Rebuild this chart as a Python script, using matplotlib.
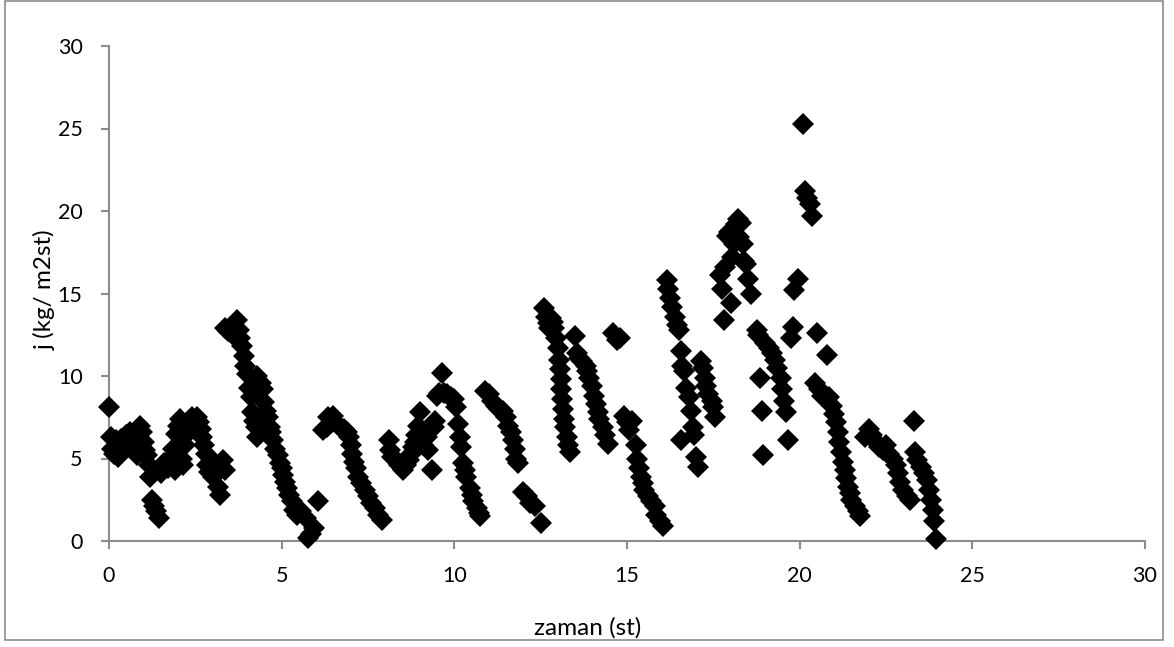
import matplotlib

matplotlib.use("Agg")

import matplotlib.pyplot as plt
from matplotlib.patches import Rectangle

# measured flux j over time, split into four blocks of the day
t_a = [0.0, 0.05, 0.1, 0.15, 0.2, 0.25, 0.3, 0.35, 0.4, 0.45, 0.5, 0.55, 0.6, 0.65, 0.7, 0.75,
       0.8, 0.85, 0.9, 0.95, 1.0, 1.05, 1.1, 1.15, 1.2, 1.25, 1.3, 1.35, 1.45, 1.5, 1.55, 1.6,
       1.7, 1.75, 1.8, 1.85, 1.9, 1.95, 2.0, 2.05, 2.1, 2.15, 2.2, 2.25, 2.3, 2.4, 2.45, 2.5,
       2.55, 2.6, 2.65, 2.7, 2.75, 2.8, 2.85, 2.9, 2.95, 3.0, 3.1, 3.15, 3.2, 3.3, 3.35,
       3.35, 3.45, 3.55, 3.6, 3.7, 3.75, 3.8, 3.85, 3.9, 3.95, 4.0, 4.05, 4.1, 4.15, 4.2, 4.25, 4.3,
       4.3, 4.4, 4.45, 4.5, 4.55, 4.6, 4.65, 4.7, 4.75, 4.8, 4.9, 4.95, 5.0, 5.05, 5.1, 5.15,
       5.2, 5.3, 5.35, 5.45, 5.55, 5.7, 5.75, 5.85, 5.95, 6.05]
j_a = [8.1, 6.3, 5.6, 5.3, 6.1, 5.1, 5.8, 6.2, 5.5, 6.0, 6.4, 5.9, 6.6, 6.2, 6.4, 5.6,
       5.2, 6.3, 7.0, 6.6, 6.0, 5.5, 5.2, 4.6, 3.9, 2.5, 2.1, 1.8, 1.4, 4.1, 4.4, 4.7,
       4.4, 4.9, 5.0, 5.6, 4.3, 6.5, 7.0, 7.4, 5.0, 4.6, 5.8, 6.5, 7.0, 7.5, 6.9, 6.8,
       7.5, 7.2, 6.8, 6.3, 5.8, 5.3, 4.6, 4.2, 5.0, 3.9, 4.5, 3.3, 2.8, 4.9, 4.3,
       12.9, 12.7, 13.0, 12.5, 13.4, 12.8, 12.3, 11.8, 11.2, 10.6, 10.1, 9.3, 8.7, 7.8, 7.3, 6.9, 6.3,
       10.0, 9.6, 9.2, 8.4, 7.9, 7.5, 6.9, 6.6, 6.1, 5.6, 5.2, 4.7, 4.4, 4.0, 3.6, 3.2,
       2.8, 2.4, 1.9, 1.6, 1.8, 1.4, 0.2, 0.4, 0.8, 2.4]

t_b = [6.2, 6.3, 6.35, 6.45, 6.5, 6.6, 6.7, 6.8, 6.9, 6.95, 7.0, 7.05, 7.1, 7.15, 7.2, 7.3,
       7.4, 7.5, 7.6, 7.7, 7.8, 7.9,
       8.1, 8.15, 8.2, 8.3, 8.4, 8.5, 8.6, 8.7, 8.75, 8.8, 8.85, 8.9, 8.95, 9.0, 9.05, 9.1,
       9.15, 9.2, 9.25, 9.35, 9.4, 9.45, 9.5, 9.55, 9.65, 9.7, 9.8, 9.9, 10.0, 10.05, 10.1,
       10.15, 10.2, 10.25, 10.3, 10.35, 10.45, 10.5, 10.55, 10.65, 10.7, 10.75,
       10.9, 11.0, 11.1, 11.2, 11.3, 11.4, 11.5, 11.55, 11.65, 11.7, 11.75, 11.8, 11.85,
       12.0, 12.1, 12.2, 12.35, 12.5]
j_b = [6.7, 6.9, 7.5, 7.2, 7.6, 7.1, 6.9, 6.8, 6.6, 6.3, 5.8, 5.3, 4.8, 4.4, 3.9, 3.5,
       3.1, 2.7, 2.3, 2.0, 1.6, 1.3,
       6.1, 5.5, 5.1, 4.9, 4.6, 4.3, 4.6, 4.9, 5.3, 5.7, 6.0, 6.4, 7.0, 7.8, 6.2, 5.8,
       6.6, 6.3, 5.5, 4.3, 6.9, 7.3, 8.8, 9.0, 10.2, 9.0, 8.9, 8.7, 8.6, 8.1, 7.1,
       6.3, 5.7, 4.7, 4.3, 3.9, 3.2, 2.8, 2.4, 2.0, 1.7, 1.5,
       9.1, 8.9, 8.5, 8.2, 8.0, 7.9, 7.5, 7.0, 6.6, 6.1, 5.6, 5.0, 4.7,
       3.0, 2.7, 2.3, 2.1, 1.1]

t_c = [12.6, 12.65, 12.7, 12.75, 12.8, 12.85, 12.9, 12.95, 13.0, 13.02, 13.05, 13.08, 13.1,
       13.12, 13.15, 13.18, 13.2, 13.25, 13.3, 13.35,
       13.5, 13.55, 13.6, 13.7, 13.8, 13.85, 13.9, 14.0, 14.05, 14.1, 14.15, 14.2, 14.3, 14.35, 14.45,
       14.6, 14.7, 14.8, 14.9, 15.0, 15.05, 15.15, 15.25, 15.3, 15.35, 15.4, 15.45, 15.5, 15.6,
       15.7, 15.8, 15.85, 15.95, 16.05,
       16.15, 16.2, 16.25, 16.3, 16.4, 16.45, 16.5, 16.55, 16.6, 16.65, 16.55, 16.7, 16.8, 16.85,
       16.9, 16.95, 17.0, 17.05, 17.15, 17.2, 17.25, 17.3, 17.35, 17.45, 17.5, 17.55]
j_c = [14.1, 13.6, 13.2, 12.9, 13.5, 13.3, 12.9, 12.3, 11.7, 11.0, 10.4, 9.8, 9.2,
       8.6, 8.0, 7.4, 6.9, 6.3, 5.8, 5.4,
       12.4, 11.4, 11.1, 10.9, 10.6, 10.3, 9.9, 9.4, 8.8, 8.3, 7.8, 7.4, 6.9, 6.4, 5.9,
       12.6, 12.2, 12.3, 7.6, 7.2, 6.7, 7.3, 5.8, 5.0, 4.4, 3.9, 3.5, 3.1, 2.7,
       2.4, 2.1, 1.6, 1.2, 0.9,
       15.8, 15.3, 14.7, 14.2, 13.6, 13.1, 12.8, 11.5, 10.6, 10.3, 6.1, 9.3, 8.7, 7.9,
       6.9, 6.4, 5.1, 4.5, 10.9, 10.5, 9.9, 9.4, 8.9, 8.5, 8.1, 7.5]

t_d = [17.7, 17.75, 17.8, 17.85, 17.9, 17.95, 18.0, 18.05, 18.1, 18.15, 18.2, 18.25, 18.3,
       18.35, 18.4, 18.45, 18.5, 18.6, 18.75, 18.8, 18.85, 18.9, 18.95, 19.0, 19.1, 19.2,
       19.3, 19.35, 19.45, 19.5, 19.55, 19.6, 19.65, 19.75, 19.8, 19.85, 19.95,
       20.1, 20.15, 20.2, 20.3, 20.35, 20.5, 20.45, 20.55, 20.65, 20.8, 20.85, 20.95, 21.0,
       21.05, 21.1, 21.15, 21.2, 21.25, 21.3, 21.35, 21.4, 21.45, 21.5, 21.6, 21.7, 21.75,
       21.9, 22.0, 22.1, 22.2, 22.3, 22.4, 22.5, 22.6, 22.7, 22.8, 22.85, 22.9, 23.0, 23.1,
       23.2, 23.3, 23.35, 23.4, 23.5, 23.6, 23.7, 23.75, 23.8, 23.85, 23.9, 23.95]
j_d = [16.1, 15.3, 13.4, 16.6, 18.5, 18.7, 14.4, 17.2, 18.0, 19.2, 19.5, 18.4, 19.3,
       18.0, 17.0, 16.8, 15.9, 15.0, 12.8, 12.5, 9.9, 7.9, 5.2, 12.0, 11.7, 11.4,
       11.0, 10.5, 9.9, 9.2, 8.5, 7.8, 6.1, 12.3, 13.0, 15.2, 15.9,
       25.3, 21.2, 20.8, 20.4, 19.7, 12.6, 9.6, 9.2, 8.8, 11.3, 8.7, 8.2, 7.7,
       7.2, 6.6, 6.0, 5.4, 4.8, 4.3, 3.8, 3.3, 2.9, 2.5, 2.1, 1.8, 1.5,
       6.3, 6.8, 6.4, 6.0, 5.7, 5.5, 5.8, 5.3, 5.0, 4.6, 4.1, 3.6, 3.1, 2.7,
       2.5, 7.3, 5.4, 4.9, 4.5, 4.1, 3.7, 3.1, 2.5, 1.9, 1.2, 0.1]

ticks = [0, 5, 10, 15, 20, 25, 30]
grey = "#8c8c8c"

plt.rcParams['font.family'] = ['Lato', 'DejaVu Sans']

fig = plt.figure(figsize=(11.74, 6.47), dpi=100)
ax = fig.add_axes([109 / 1174, 1 - 541 / 647, 1036 / 1174, 495 / 647])

for t, j in [(t_a, j_a), (t_b, j_b), (t_c, j_c), (t_d, j_d)]:
    ax.plot(t, j, linestyle="none", marker="D", markersize=11.5, color="black",
            markeredgewidth=0, clip_on=False, zorder=3)

ax.set_xlim(0, 30)
ax.set_ylim(0, 30)
ax.set_xticks(ticks)
ax.set_yticks(ticks)
ax.tick_params(axis="both", direction="out", length=6, width=1.5, color=grey,
               labelsize=15.5, labelcolor="black")
ax.tick_params(axis="x", pad=12)
ax.tick_params(axis="y", pad=13)
for side in ["top", "right"]:
    ax.spines[side].set_visible(False)
for side in ["left", "bottom"]:
    ax.spines[side].set_color(grey)
    ax.spines[side].set_linewidth(1.5)

fig.text(588 / 1174, 1 - 628 / 647, "zaman (st)", ha="center", va="center", fontsize=17.5)
fig.text(45 / 1174, 1 - 290 / 647, "j (kg/ m2st)", ha="center", va="center",
         rotation=90, fontsize=17.5)

# thin grey frame around the whole chart area
fig.patches.append(Rectangle((5 / 1174, 7 / 647), 1158 / 1174, 639 / 647,
                             transform=fig.transFigure, fill=False,
                             edgecolor=grey, linewidth=1.2))

fig.savefig("out.png", dpi=100)
plt.close(fig)
